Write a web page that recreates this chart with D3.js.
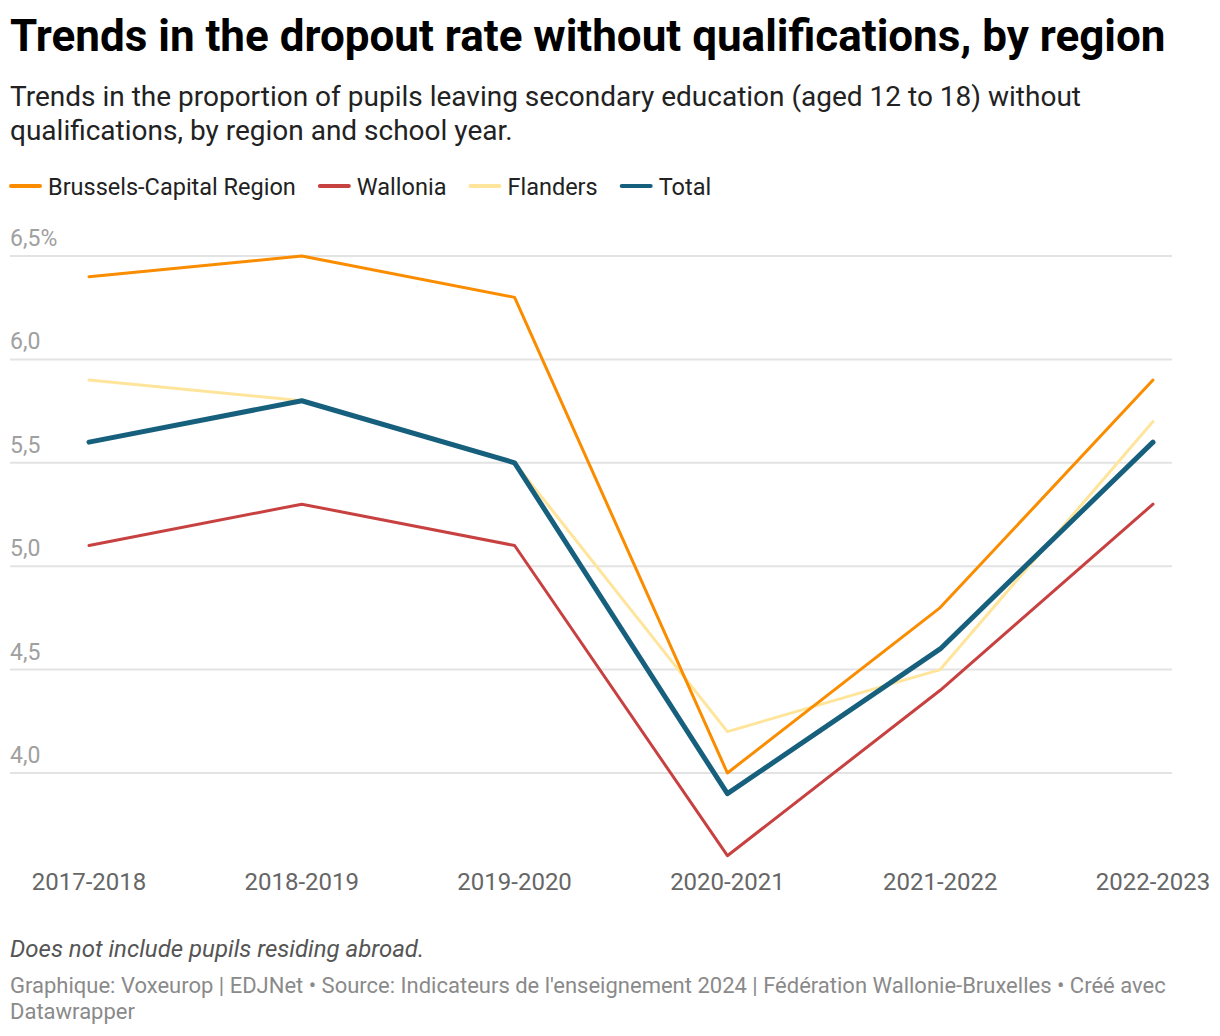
<!DOCTYPE html>
<html>
<head>
<meta charset="UTF-8">
<title>Dropout rate by region</title>
<script src="https://cdn.jsdelivr.net/npm/d3@7/dist/d3.min.js"></script>
<style>
  body { margin: 0; background: #fff; font-family: Roboto, "Noto Sans", sans-serif; }
  svg text { font-family: Roboto, "Noto Sans", sans-serif; }
</style>
</head>
<body>
<div id="chart"></div>
<script>
// school years on the x axis
const years = ["2017-2018", "2018-2019", "2019-2020", "2020-2021", "2021-2022", "2022-2023"];
const brussels = [6.4, 6.5, 6.3, 4.0, 4.8, 5.9];
const wallonia = [5.1, 5.3, 5.1, 3.6, 4.4, 5.3];
const flanders = [5.9, 5.8, 5.5, 4.2, 4.5, 5.7];
const total    = [5.6, 5.8, 5.5, 3.9, 4.6, 5.6];
const yTicks = [4.0, 4.5, 5.0, 5.5, 6.0, 6.5];

const series = [
  { name: "Brussels-Capital Region", values: brussels, color: "#fa8c00", w: 3 },
  { name: "Wallonia", values: wallonia, color: "#c84141", w: 3 },
  { name: "Flanders", values: flanders, color: "#ffe59c", w: 3 },
  { name: "Total", values: total, color: "#17607d", w: 5 }
];

const width = 1220, height = 1036;
const svg = d3.select("#chart").append("svg")
  .attr("width", width).attr("height", height);

// header
svg.append("text").attr("x", 10).attr("y", 51)
  .attr("font-size", 44).attr("font-weight", 700).attr("fill", "#000")
  .text("Trends in the dropout rate without qualifications, by region");
svg.append("text").attr("x", 10).attr("y", 106)
  .attr("font-size", 28).attr("fill", "#222")
  .text("Trends in the proportion of pupils leaving secondary education (aged 12 to 18) without");
svg.append("text").attr("x", 10).attr("y", 140)
  .attr("font-size", 28).attr("fill", "#222")
  .text("qualifications, by region and school year.");

// legend
let lx = 10;
series.forEach(s => {
  const g = svg.append("g").attr("transform", `translate(${lx},186)`);
  g.append("line").attr("x1", 1).attr("x2", 30).attr("y1", 0).attr("y2", 0)
    .attr("stroke", s.color).attr("stroke-width", 4).attr("stroke-linecap", "round");
  const t = g.append("text").attr("x", 38).attr("y", 8.5)
    .attr("font-size", 23.5).attr("fill", "#222").text(s.name);
  lx += 38 + t.node().getComputedTextLength() + 23;
});

// scales
const x = d3.scalePoint().domain(years).range([89, 1153]);
const y = d3.scaleLinear().domain([4.0, 6.5]).range([773, 256]);

// grid + y labels
const grid = svg.append("g");
yTicks.forEach(v => {
  grid.append("line").attr("x1", 10).attr("x2", 1172)
    .attr("y1", y(v)).attr("y2", y(v))
    .attr("stroke", "#e3e3e3").attr("stroke-width", 2);
  grid.append("text").attr("x", 10).attr("y", y(v) - 10)
    .attr("font-size", 23).attr("fill", "#a0a0a0")
    .text(d3.format(".1f")(v).replace(".", ",") + (v === 6.5 ? "%" : ""));
});

// x labels
svg.append("g").selectAll("text").data(years).join("text")
  .attr("x", d => x(d)).attr("y", 890)
  .attr("text-anchor", "middle")
  .attr("font-size", 24).attr("fill", "#666")
  .text(d => d);

// lines
const line = d3.line()
  .x((d, i) => x(years[i]))
  .y(d => y(d));

const order = [series[2], series[0], series[1], series[3]];
svg.append("g").selectAll("path").data(order).join("path")
  .attr("d", d => line(d.values))
  .attr("fill", "none")
  .attr("stroke", d => d.color)
  .attr("stroke-width", d => d.w)
  .attr("stroke-linejoin", "round")
  .attr("stroke-linecap", "round");

// footer
svg.append("text").attr("x", 10).attr("y", 957)
  .attr("font-size", 24).attr("font-style", "italic").attr("fill", "#555")
  .text("Does not include pupils residing abroad.");
svg.append("text").attr("x", 10).attr("y", 993)
  .attr("font-size", 22).attr("fill", "#8a8a8a")
  .text("Graphique: Voxeurop | EDJNet • Source: Indicateurs de l'enseignement 2024 | Fédération Wallonie-Bruxelles • Créé avec");
svg.append("text").attr("x", 10).attr("y", 1019)
  .attr("font-size", 22).attr("fill", "#8a8a8a")
  .text("Datawrapper");
</script>
</body>
</html>
